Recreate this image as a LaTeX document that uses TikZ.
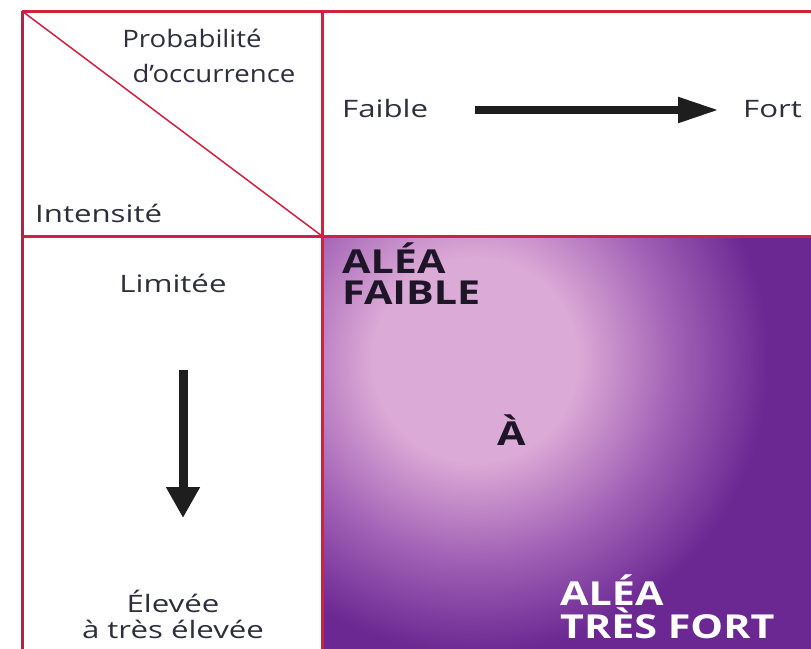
\documentclass[tikz,border=0pt]{standalone}
\usepackage{fontspec}
\setmainfont{Open Sans}
\newfontfamily\lblA{Open Sans}[FakeStretch=1.3]
\newfontfamily\lblB{Open Sans}[FakeStretch=1.15]
\newfontfamily\bigf{Open Sans}[FakeStretch=1.25]
\usetikzlibrary{arrows.meta}
\definecolor{frame}{HTML}{D0213F}
\definecolor{frameL}{HTML}{B32248}
\definecolor{txt}{HTML}{2E2E3C}
\definecolor{aleaL}{HTML}{DCAAD6}
\definecolor{aleaM}{HTML}{A262B6}
\definecolor{aleaD}{HTML}{6B2792}
\definecolor{ink}{HTML}{1E1E1E}
\pgfdeclareradialshading{alea}{\pgfpoint{0bp}{0bp}}{color(0bp)=(aleaL); color(8bp)=(aleaL); color(15.5bp)=(aleaM); color(23bp)=(aleaD); color(50bp)=(aleaD)}
\tikzset{
  lbl/.style={font=\lblA\fontsize{24}{26}\selectfont, text=txt, inner sep=0pt, anchor=base},
  lblb/.style={font=\lblB\fontsize{24}{26}\selectfont, text=txt, inner sep=0pt, anchor=base},
  big/.style={font=\bigf\fontsize{33}{33}\selectfont\bfseries, inner sep=0pt, anchor=base west},
  fr/.style={draw=frame, line width=3pt},
}
\begin{document}
\begin{tikzpicture}[x=1pt,y=-1pt]
\useasboundingbox (0,0) rectangle (811,648);
\clip (0,0) rectangle (811,648);
% gradient panel
\fill[aleaD] (322,236) rectangle (830,670);
\begin{scope}
  \clip (322,236) rectangle (830,670);
  \shade[shading=alea] (475,360) circle (320);
\end{scope}
% frame
\coordinate (tl) at (22,11);
\coordinate (cc) at (322,236);
\draw[fr] (22,11) -- (830,11);
\draw[fr] (22,236) -- (830,236);
\draw[fr] (322,11) -- (322,670);
\draw[draw=frameL, line width=3pt] (22,11) -- (22,670);
\draw[draw=frame, line width=1.5pt] (tl) -- (cc);
% labels top-left
\node[lblb] (proba) at (192,47) {Probabilité};
\node[lblb] (occ) at (214,82) {d’occurrence};
\node[lbl, anchor=base west] (inten) at (35,222) {Intensité};
% top right
\node[lbl, anchor=base west] (faible) at (342,117) {Faible};
\node[lbl, anchor=base west] (fort) at (743,117) {Fort};
\coordinate (h1) at (475,110);
\coordinate (h2) at (719,110);
\draw[line width=8pt, draw=ink, -{Triangle[length=41pt,width=24pt]}] (h1) -- (h2);
% bottom left
\node[lbl] (lim) at (173,292) {Limitée};
\node[lbl] (elev) at (173,612) {Élevée};
\node[lbl] (tres) at (173,638) {à très élevée};
\coordinate (v1) at (183,370);
\coordinate (v2) at (183,518);
\draw[line width=9pt, draw=ink, -{Triangle[length=31pt,width=32pt]}] (v1) -- (v2);
% gradient texts
\node[big, text={rgb,255:red,30;green,22;blue,40}] (af) at (342,273) {ALÉA};
\node[big, text={rgb,255:red,30;green,22;blue,40}] (af2) at (342,304) {FAIBLE};
\node[big, text={rgb,255:red,30;green,22;blue,40}] (a) at (497,445) {À};
\node[big, text=white] (atf) at (560,605) {ALÉA};
\node[big, text=white] (atf2) at (560,638) {TRÈS FORT};
\end{tikzpicture}
\end{document}
